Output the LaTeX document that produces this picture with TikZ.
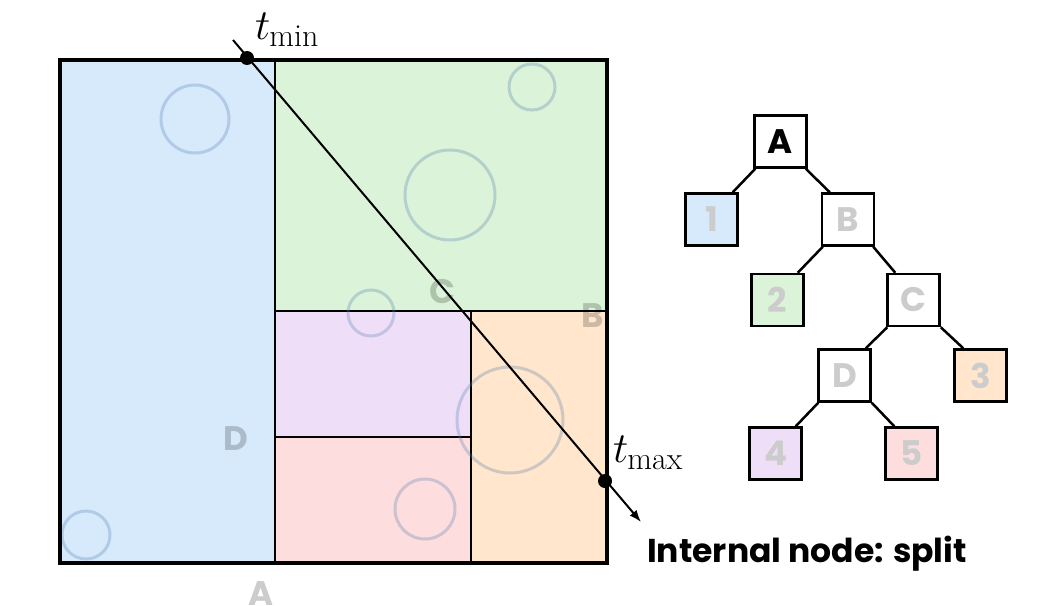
\RequirePackage{fix-cm}
\documentclass[tikz,border=0pt]{standalone}
\usepackage{fontspec}
\newfontfamily\pop{Poppins}
\usetikzlibrary{calc,arrows.meta}
\definecolor{cblue}{RGB}{215,234,252}
\definecolor{cgreen}{RGB}{219,243,216}
\definecolor{cpurple}{RGB}{239,222,247}
\definecolor{cpink}{RGB}{253,221,221}
\definecolor{corange}{RGB}{255,230,204}
\definecolor{ccirc}{RGB}{90,130,180}
\definecolor{tgray}{RGB}{204,204,204}
\newcommand{\tsub}[1]{$t$\kern-1pt\raisebox{-7pt}{\fontsize{32}{34}\selectfont #1}}
\begin{document}
\begin{tikzpicture}[x=1pt,y=-1pt,
  splitline/.style={line width=2pt},
  bubble/.style={draw=ccirc,draw opacity=0.3,line width=3pt},
  reglabel/.style={text=black,text opacity=0.2,font=\pop\bfseries\fontsize{34}{40}\selectfont,inner sep=0pt},
  dotnode/.style={circle,fill=black,inner sep=0pt,minimum size=14pt},
  tbox/.style={draw=black,line width=2.5pt,minimum size=52pt,inner sep=0pt,font=\pop\bfseries\fontsize{34}{40}\selectfont,text=tgray},
  tedge/.style={line width=2.5pt},
  tlab/.style={font=\fontsize{43}{46}\selectfont,inner sep=0pt}
]
\useasboundingbox (0,0) rectangle (1064,605);
% regions
\fill[cblue] (60,60) rectangle (275,563);
\fill[cgreen] (275,60) rectangle (607,311);
\fill[cpurple] (275,311) rectangle (471,437);
\fill[cpink] (275,437) rectangle (471,563);
\fill[corange] (471,311) rectangle (607,563);
\draw[splitline] (275,60) -- (275,563);
\draw[splitline] (275,311) -- (607,311);
\draw[splitline] (471,311) -- (471,563);
\draw[splitline] (275,437) -- (471,437);
% circles
\draw[bubble] (195,119) circle (34);
\draw[bubble] (532,87) circle (23);
\draw[bubble] (450,195) circle (45);
\draw[bubble] (371,313) circle (23);
\draw[bubble] (510,420) circle (53);
\draw[bubble] (425,509) circle (30);
\draw[bubble] (86,535) circle (24);
% split labels
\node[reglabel] (lA) at (261,594) {A};
\node[reglabel] (lB) at (593,316) {B};
\node[reglabel] (lC) at (442,292) {C};
\node[reglabel] (lD) at (236,439) {D};
% outer box
\draw[line width=4.5pt] (60,60) rectangle (607,563);
% ray
\coordinate (rs) at (233,40);
\coordinate (re) at (641,522);
\draw[line width=2pt,-{Latex[length=12pt,width=9pt]}] (rs) -- (re);
\node[dotnode] (tmin) at (247,58) {};
\node[dotnode] (tmax) at (605,481) {};
\node[tlab,anchor=base west] (ltmin) at (255,39) {\tsub{min}};
\node[tlab,anchor=base west] (ltmax) at (613,462) {\tsub{max}};
\node[anchor=base west,inner sep=0pt,font=\pop\bfseries\fontsize{33}{40}\selectfont] (cap) at (647,562) {Internal node: split};
% tree
\node[tbox,fill=white,text=black] (A) at (780.5,141.5) {A};
\node[tbox,fill=cblue] (n1) at (711.5,219.5) {1};
\node[tbox,fill=white] (B) at (848,219.5) {B};
\node[tbox,fill=cgreen] (n2) at (777.5,300) {2};
\node[tbox,fill=white] (C) at (913.5,300) {C};
\node[tbox,fill=white] (D) at (844.5,375.5) {D};
\node[tbox,fill=corange] (n3) at (980.5,375.5) {3};
\node[tbox,fill=cpurple] (n4) at (775.5,453.5) {4};
\node[tbox,fill=cpink] (n5) at (911.5,453.5) {5};
\draw[tedge] ($(A.south west)+(2,0)$) -- ($(n1.north east)+(-6,0)$);
\draw[tedge] ($(A.south east)+(-2,0)$) -- ($(B.north west)+(9,0)$);
\draw[tedge] ($(B.south west)+(2,0)$) -- ($(n2.north east)+(-7,0)$);
\draw[tedge] ($(B.south east)+(-2,0)$) -- ($(C.north west)+(9,0)$);
\draw[tedge] ($(C.south west)+(1,0)$) -- ($(D.north east)+(-6,0)$);
\draw[tedge] ($(C.south east)+(0,0)$) -- ($(n3.north west)+(10,0)$);
\draw[tedge] ($(D.south west)+(1,0)$) -- ($(n4.north east)+(-7,0)$);
\draw[tedge] ($(D.south east)+(0,0)$) -- ($(n5.north west)+(10,0)$);
\end{tikzpicture}
\end{document}
